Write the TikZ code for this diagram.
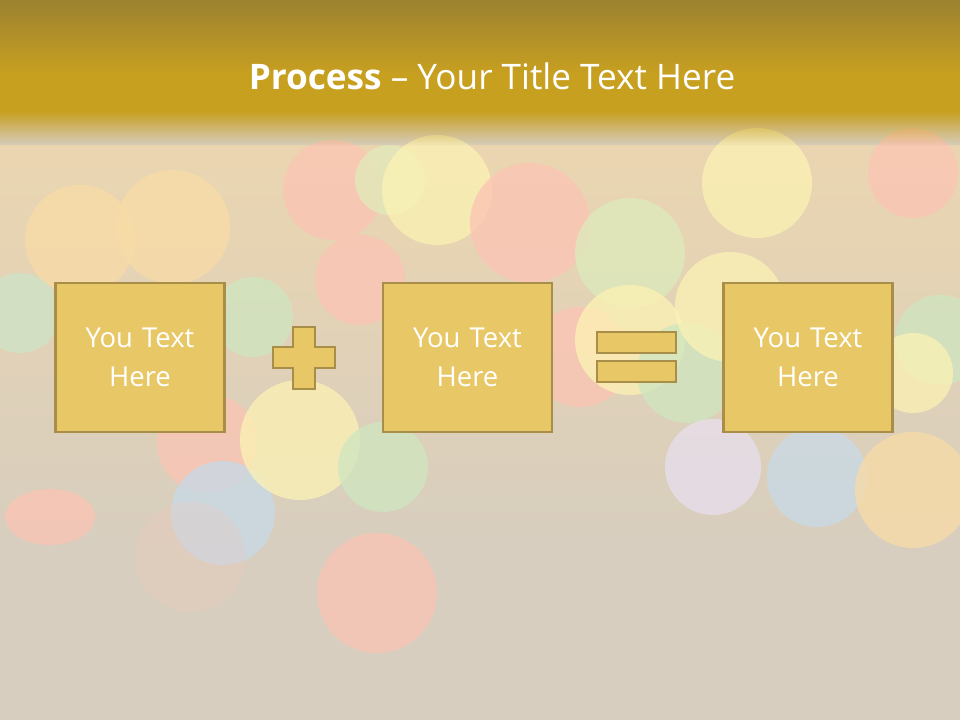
\documentclass[tikz,border=0pt]{standalone}
\usepackage{xcolor}
\usepackage{tikz}
\usepackage{fontspec}
\setmainfont{Open Sans}
\definecolor{goldtop}{HTML}{9c8230}
\definecolor{goldmid}{HTML}{c8a020}
\definecolor{backdrop}{HTML}{d7cec0}
\definecolor{boxfill}{HTML}{e8c866}
\definecolor{boxline}{HTML}{a88e48}
\definecolor{bkred}{HTML}{fcc4b4}
\definecolor{bkyellow}{HTML}{fcf2b4}
\definecolor{bkorange}{HTML}{f9dca6}
\definecolor{bkgreen}{HTML}{cfe6c0}
\definecolor{bkblue}{HTML}{c8dae8}
\usetikzlibrary{positioning, fadings}

\begin{document}
\begin{tikzpicture}[
    x=0.025cm, y=-0.025cm,
    textbox/.style={draw=boxline, fill=boxfill, line width=1.8pt, minimum width=4.2cm, minimum height=3.725cm, text width=4cm, align=center, text=white, font=\fontsize{19.5}{28}\selectfont},
    sign/.style={draw=boxline, fill=boxfill, line width=1.6pt},
    bokeh/.style={fill=#1, opacity=0.75}
]
    \useasboundingbox (0,0) rectangle (960,720);
    \clip (0,0) rectangle (960,720);

    % Backdrop
    \fill[backdrop] (0,0) rectangle (960,720);
    \fill[bkorange!60!backdrop, path fading=south] (0,145) rectangle (960,560);

    % Bokeh
    \fill[bokeh=bkgreen!80!bkblue] (20,313) circle (40);
    \fill[bokeh=bkorange] (80,240) circle (55);
    \fill[bokeh=bkorange] (173,227) circle (57);
    \fill[bokeh=bkred] (333,190) circle (50);
    \fill[bokeh=bkgreen!60!bkyellow] (390,180) circle (35);
    \fill[bokeh=bkred] (360,280) circle (45);
    \fill[bokeh=bkyellow] (437,190) circle (55);
    \fill[bokeh=bkgreen] (253,317) circle (40);
    \fill[bokeh=bkred] (530,223) circle (60);
    \fill[bokeh=bkgreen!70!bkyellow] (630,253) circle (55);
    \fill[bokeh=bkyellow] (757,183) circle (55);
    \fill[bokeh=bkred] (913,173) circle (45);
    \fill[bokeh=bkred] (580,357) circle (50);
    \fill[bokeh=bkyellow] (630,340) circle (55);
    \fill[bokeh=bkgreen] (687,373) circle (50);
    \fill[bokeh=bkyellow] (730,307) circle (55);
    \fill[bokeh=bkgreen] (940,340) circle (45);
    \fill[bokeh=bkyellow] (913,373) circle (40);
    \fill[bokeh=bkred] (207,443) circle (50);
    \fill[bokeh=bkblue] (223,513) circle (52);
    \fill[bokeh=bkyellow] (300,440) circle (60);
    \fill[bokeh=bkgreen] (383,467) circle (45);
    \fill[bokeh=bkred] (50,517) ellipse (45 and 28);
    \fill[bkred, opacity=0.2] (190,557) circle (55);
    \fill[bokeh=bkred] (377,593) circle (60);
    \fill[bokeh=bkblue!70!violet!30] (713,467) circle (48);
    \fill[bokeh=bkblue] (817,477) circle (50);
    \fill[bokeh=bkorange] (913,490) circle (58);

    % Title band
    \shade[top color=goldtop, bottom color=goldmid] (0,0) rectangle (960,75);
    \fill[goldmid] (0,75) rectangle (960,112);
    \fill[goldmid, path fading=south] (0,111) rectangle (960,146);
    \node[text=white, font=\fontsize{25}{30}\selectfont] (title) at (492,76)
        {\textbf{Process} -- Your Title Text Here};

    % Boxes
    \node[textbox] (b1) at (140,357.5) {You Text\\Here};
    \node[textbox] (b2) at (467.5,357.5) {You Text\\Here};
    \node[textbox] (b3) at (808,357.5) {You Text\\Here};

    % Plus
    \draw[sign] (293,327) -- (315,327) -- (315,347) -- (335,347) -- (335,368)
        -- (315,368) -- (315,389) -- (293,389) -- (293,368) -- (273,368)
        -- (273,347) -- (293,347) -- cycle;

    % Equals
    \draw[sign] (597,332) rectangle (676,353);
    \draw[sign] (597,361) rectangle (676,382);
\end{tikzpicture}
\end{document}
